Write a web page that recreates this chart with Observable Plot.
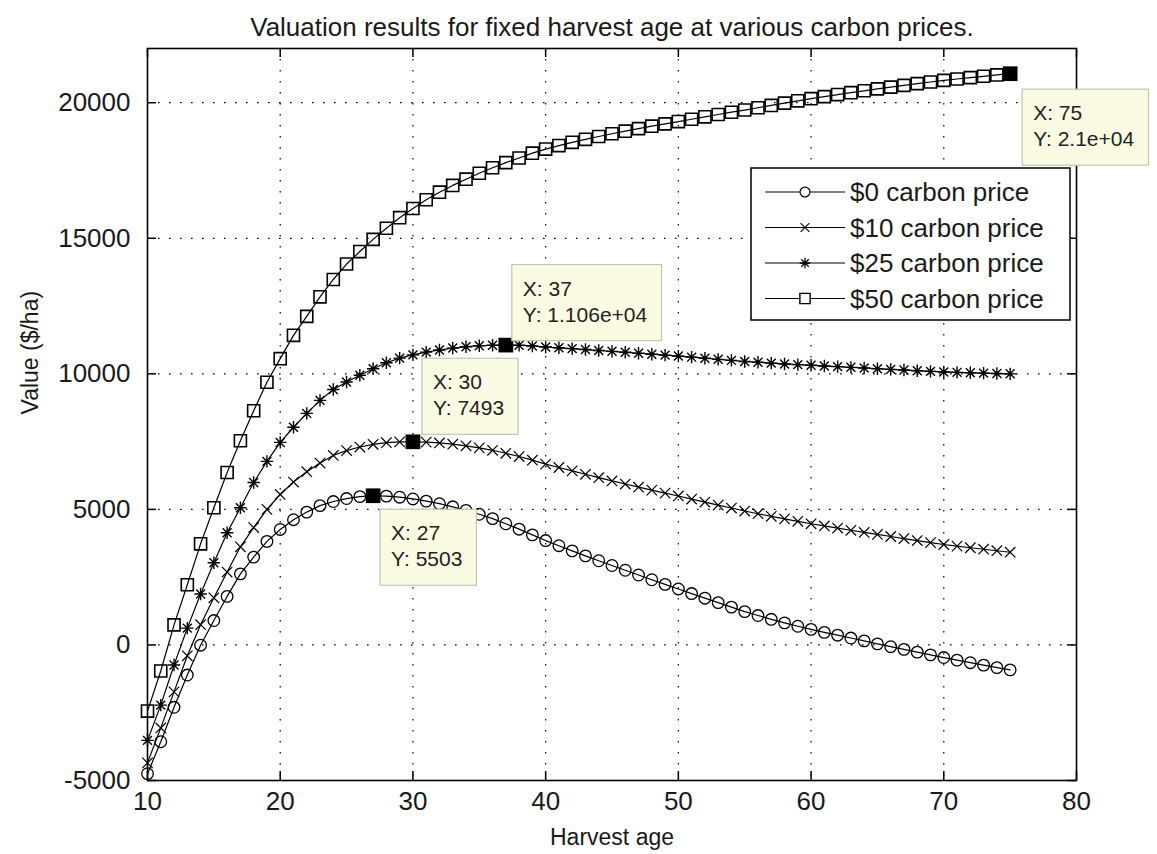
<!DOCTYPE html>
<html><head><meta charset="utf-8">
<script src="https://cdn.jsdelivr.net/npm/d3@7"></script>
<script src="https://cdn.jsdelivr.net/npm/@observablehq/plot@0.6"></script>
<style>
html,body{margin:0;padding:0;background:#fff;}
#chart{width:1157px;height:854px;}
</style></head><body><div id="chart"></div>
<script>
// ---------- data ----------
const ages = [10,11,12,13,14,15,16,17,18,19,20,21,22,23,24,25,26,27,28,29,30,31,32,33,34,35,36,37,38,39,40,41,42,43,44,45,46,47,48,49,50,51,52,53,54,55,56,57,58,59,60,61,62,63,64,65,66,67,68,69,70,71,72,73,74,75];
const price0 = [-4750,-3570,-2300,-1110,-10,900,1790,2620,3240,3820,4260,4620,4900,5140,5290,5400,5470,5503,5490,5450,5385,5305,5210,5095,4965,4820,4660,4470,4270,4060,3850,3660,3470,3285,3105,2930,2755,2580,2405,2235,2065,1895,1725,1560,1395,1230,1085,945,815,690,575,465,360,255,150,40,-65,-165,-265,-365,-465,-560,-655,-745,-835,-920];
const price10 = [-4350,-3060,-1730,-400,745,1740,2690,3620,4330,5000,5550,6010,6390,6710,6990,7170,7300,7400,7460,7490,7493,7480,7450,7405,7345,7270,7180,7070,6950,6815,6670,6545,6420,6295,6170,6050,5935,5820,5710,5600,5494,5380,5270,5160,5050,4940,4840,4745,4650,4560,4470,4390,4310,4230,4150,4075,4000,3925,3850,3775,3705,3645,3585,3530,3475,3420];
const price25 = [-3520,-2220,-740,620,1880,3030,4140,5060,5990,6770,7470,8030,8540,9020,9420,9700,9950,10190,10410,10580,10700,10800,10880,10950,11000,11035,11055,11060,11055,11025,10990,10960,10930,10895,10860,10830,10795,10760,10725,10690,10655,10615,10575,10535,10495,10455,10425,10395,10365,10340,10315,10290,10265,10240,10215,10190,10165,10140,10115,10090,10070,10055,10040,10025,10010,10000];
const price50 = [-2440,-960,740,2220,3730,5060,6360,7530,8640,9690,10560,11420,12120,12840,13480,14050,14510,14960,15370,15760,16100,16420,16700,16950,17180,17400,17600,17790,17960,18140,18290,18420,18540,18650,18755,18855,18950,19045,19135,19220,19305,19390,19480,19565,19650,19730,19815,19900,19985,20070,20150,20225,20300,20370,20440,20510,20575,20640,20705,20765,20825,20875,20925,20975,21025,21070];
const seriesNames = ["$0 carbon price","$10 carbon price","$25 carbon price","$50 carbon price"];
const xTicks = [10,20,30,40,50,60,70,80];
const yTicks = [-5000,0,5000,10000,15000,20000];
const tipAges = [27,30,37,75];
const tipSeries = [0,1,2,3];
const tipLabels = ["X: 27\nY: 5503","X: 30\nY: 7493","X: 37\nY: 1.106e+04","X: 75\nY: 2.1e+04"];
const titleText = "Valuation results for fixed harvest age at various carbon prices.";
const xLabel = "Harvest age";
const yLabel = "Value ($/ha)";

// ---------- build tables ----------
const allValues = [price0, price10, price25, price50];
const rows = seriesNames.map((s, k) => ages.map((a, i) => ({age: a, value: allValues[k][i], series: s})));
const tips = tipAges.map((a, j) => ({age: a, value: allValues[tipSeries[j]][ages.indexOf(a)], label: tipLabels[j]}));

// ---------- layout / style ----------
const W = 1157, H = 854, mL = 147, mR = 81, mT = 48, mB = 74;
const frameH = H - mT - mB, frameW = W - mL - mR;
const FONT = "'Liberation Sans', Arial, Helvetica, sans-serif";

const asterisk8 = {
  draw(ctx, size) {
    const r = Math.sqrt(size / Math.PI);
    const d = r * 0.72;
    ctx.moveTo(-r, 0); ctx.lineTo(r, 0);
    ctx.moveTo(0, -r); ctx.lineTo(0, r);
    ctx.moveTo(-d, -d); ctx.lineTo(d, d);
    ctx.moveTo(-d, d); ctx.lineTo(d, -d);
  }
};
const markerSpec = [
  {symbol: "circle", r: 5.8, sw: 1.3},
  {symbol: "times", r: 4.8, sw: 1.2},
  {symbol: asterisk8, r: 6.2, sw: 1.4},
  {symbol: "square", r: 6.8, sw: 1.6}
];
// per-tip text offsets (px)
const tipOffsets = [{dx: 18, dy: 26}, {dx: 20, dy: -71}, {dx: 17, dy: -68}, {dx: 23, dy: 28}];

const marks = [];
marks.push(Plot.ruleX(xTicks.slice(1, -1), {x: d => d, stroke: "#000", strokeWidth: 1.2, strokeDasharray: "1.6,9.4"}));
marks.push(Plot.ruleY(yTicks.slice(1), {y: d => d, stroke: "#000", strokeWidth: 1.2, strokeDasharray: "1.6,9.4"}));
marks.push(Plot.ruleX(xTicks, {x: d => d, insetTop: frameH - 9, stroke: "#000", strokeWidth: 1.5}));
marks.push(Plot.ruleX(xTicks, {x: d => d, insetBottom: frameH - 9, stroke: "#000", strokeWidth: 1.5}));
marks.push(Plot.ruleY(yTicks, {y: d => d, insetRight: frameW - 9, stroke: "#000", strokeWidth: 1.5}));
marks.push(Plot.ruleY(yTicks, {y: d => d, insetLeft: frameW - 9, stroke: "#000", strokeWidth: 1.5}));
marks.push(Plot.axisX(xTicks, {anchor: "bottom", tickSize: 0, tickPadding: 11, fontSize: 26, tickFormat: d => String(d), label: null, fill: "#1a1a1a"}));
marks.push(Plot.axisY(yTicks, {anchor: "left", tickSize: 0, tickPadding: 17, fontSize: 26, tickFormat: d => String(d), label: null, fill: "#1a1a1a"}));
rows.forEach((data, k) => {
  marks.push(Plot.line(data, {x: "age", y: "value", stroke: "#000", strokeWidth: 1.2}));
  marks.push(Plot.dot(data, {x: "age", y: "value", symbol: markerSpec[k].symbol, r: markerSpec[k].r, fill: "none", stroke: "#000", strokeWidth: markerSpec[k].sw}));
});
marks.push(Plot.frame({stroke: "#000", strokeWidth: 1.6}));
marks.push(Plot.dot(tips, {x: "age", y: "value", symbol: "square", r: 8.3, fill: "#000", stroke: "none"}));
tips.forEach((t, j) => {
  marks.push(Plot.text([t], {x: "age", y: "value", text: "label", textAnchor: "start", lineAnchor: "top",
    dx: tipOffsets[j].dx, dy: tipOffsets[j].dy, fontSize: 21, lineHeight: 1.24, fill: "#222", className: "tiptext"}));
});
marks.push(Plot.text([titleText], {text: d => d, frameAnchor: "top", dy: -31, fontSize: 26, fill: "#1a1a1a"}));
marks.push(Plot.text([xLabel], {text: d => d, frameAnchor: "bottom", dy: 64, fontSize: 23, fill: "#1a1a1a"}));
marks.push(Plot.text([yLabel], {text: d => d, frameAnchor: "left", dx: -117, rotate: -90, fontSize: 23, fill: "#1a1a1a"}));

const chart = Plot.plot({
  width: W, height: H, marginLeft: mL, marginRight: mR, marginTop: mT, marginBottom: mB,
  style: {fontFamily: FONT, background: "#fff", color: "#000"},
  x: {domain: [10, 80], label: null},
  y: {domain: [-5000, 22000], label: null},
  marks
});
document.getElementById("chart").appendChild(chart);

// ---------- data-tip boxes behind tip text ----------
const svg = d3.select(chart);
svg.selectAll("g.tiptext text").each(function() {
  const b = this.getBBox();
  d3.select(this.parentNode).insert("rect", ":first-child")
    .attr("transform", this.getAttribute("transform"))
    .attr("x", b.x - 11).attr("y", b.y - 12)
    .attr("width", b.width + 25).attr("height", b.height + 27)
    .attr("fill", "#fbfbe4").attr("stroke", "#c4c4b4").attr("stroke-width", 1.2);
});

// ---------- legend ----------
const lg = svg.append("g").attr("font-family", FONT).attr("text-anchor", "start");
const lx = 751, ly = 168, lw = 319, lh = 152;
lg.append("rect").attr("x", lx).attr("y", ly).attr("width", lw).attr("height", lh)
  .attr("fill", "#fff").attr("stroke", "#000").attr("stroke-width", 1.5);
const d3sym = {circle: d3.symbolCircle, times: d3.symbolTimes, square: d3.symbolSquare};
seriesNames.forEach((s, k) => {
  const cy = ly + 24 + k * 35.5;
  lg.append("line").attr("x1", lx + 14).attr("x2", lx + 94).attr("y1", cy).attr("y2", cy)
    .attr("stroke", "#000").attr("stroke-width", 1.2);
  const spec = markerSpec[k];
  const type = typeof spec.symbol === "string" ? d3sym[spec.symbol] : spec.symbol;
  const rr = spec.r * 0.85;
  lg.append("path").attr("d", d3.symbol(type, Math.PI * rr * rr)())
    .attr("transform", `translate(${lx + 54},${cy})`)
    .attr("fill", "#fff").attr("stroke", "#000").attr("stroke-width", spec.sw * 0.9);
  lg.append("text").attr("x", lx + 99).attr("y", cy).attr("dy", "0.35em")
    .attr("font-size", 26).attr("fill", "#1a1a1a").text(s);
});
</script></body></html>
